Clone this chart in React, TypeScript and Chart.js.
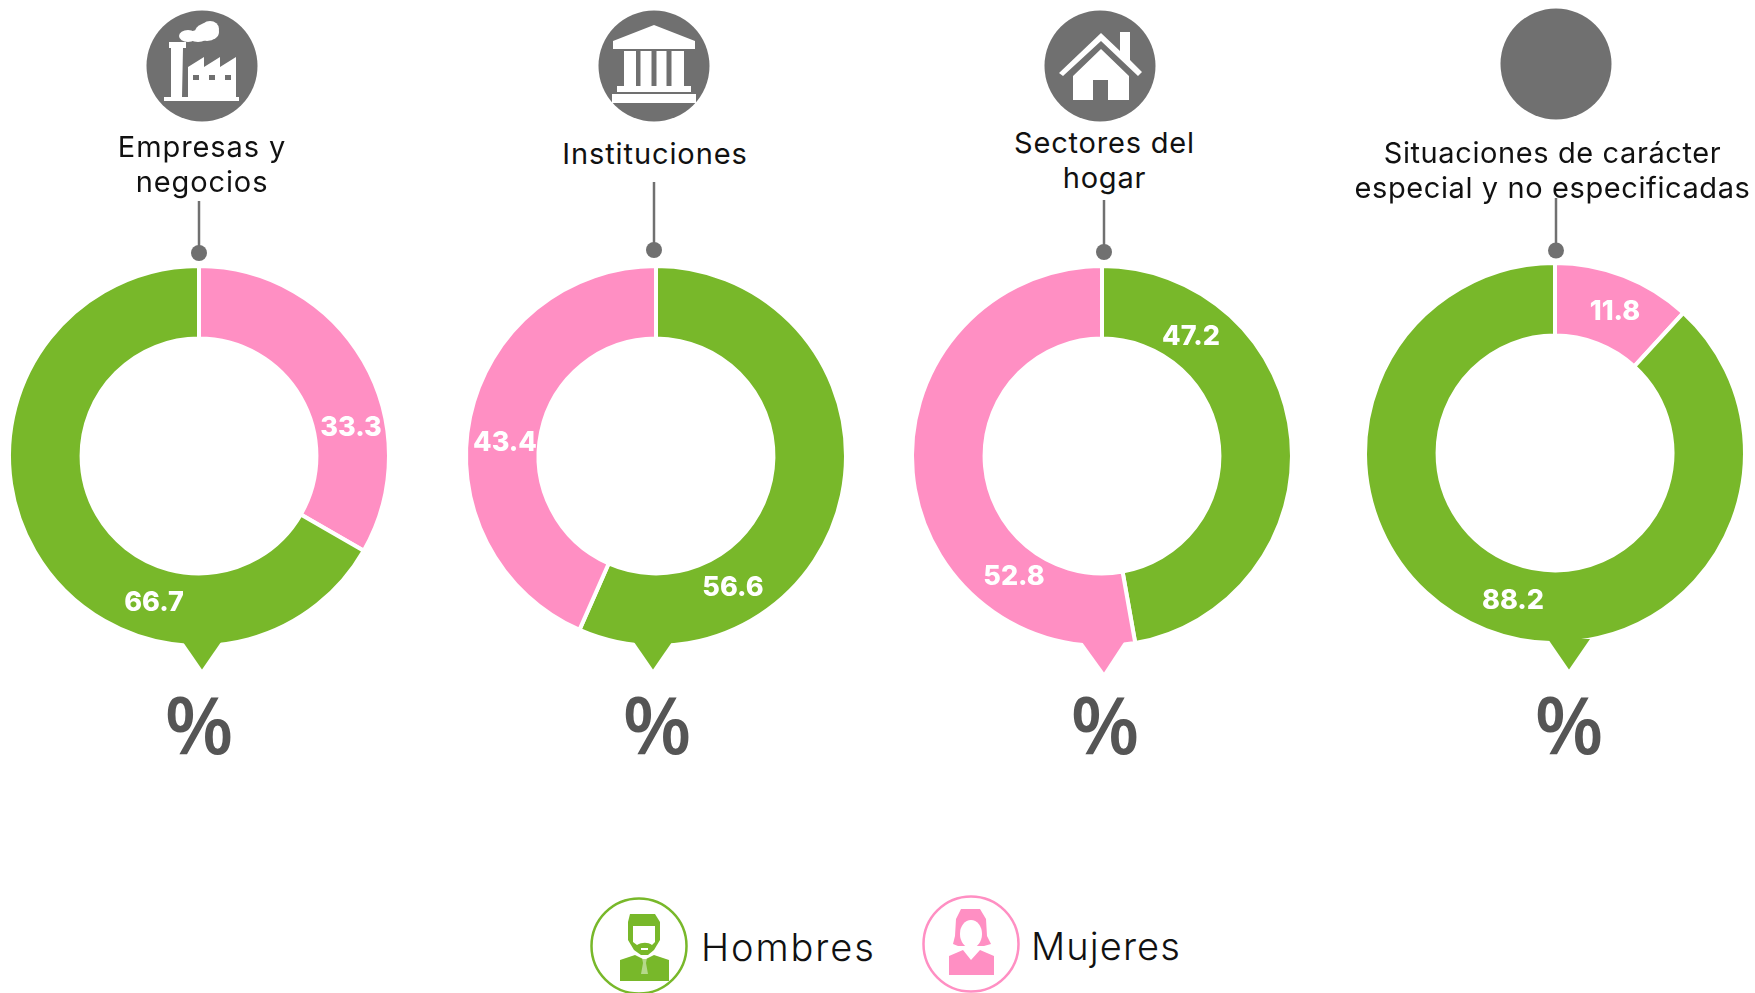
import React, { useEffect, useRef } from "react";
import { Chart, registerables } from "chart.js";

Chart.register(...registerables);

const GREEN = "#78b82a";
const PINK = "#ff8fc3";
const GRAY = "#707070";
const FONT = "Inter, 'Open Sans', sans-serif";

const panelNames = ["Empresas y negocios", "Instituciones", "Sectores del hogar", "Situaciones de carácter especial y no especificadas"];
const seriesNames = ["Hombres", "Mujeres"];
const hombres = [66.7, 56.6, 47.2, 88.2];
const mujeres = [33.3, 43.4, 52.8, 11.8];
const hombresFirst = [false, true, true, false];

// layout only
const centers = [[199, 455.5], [656, 455.5], [1102, 455.5], [1555, 452.5]];
const tails = [[183, 221, 202, 669, GREEN], [634, 672, 653, 669, GREEN], [1082, 1124, 1104, 672, PINK], [1548, 1590, 1569, 669, GREEN]];
const hombresLabelOffsets = [[-45, 147], [77, 132], [89, -119], [-42, 148]];
const mujeresLabelOffsets = [[152, -28], [-151, -13], [-88, 121], [60, -141]];
const headLines = [["Empresas y", "negocios"], ["Instituciones"], ["Sectores del", "hogar"], ["Situaciones de carácter", "especial y no especificadas"]];
const headX = [202, 655, 1104.5, 1552.5];
const headY = [129, 136, 125, 135];
const headSpacing = [0.9, 0.9, 0.8, 0.6];
const iconCenters = [[202, 66], [654, 66], [1100, 66], [1556, 64]];
const stems = [[199, 201, 253], [653.5, 182, 250], [1103.5, 200, 252], [1556, 198, 250.5]];
const percentX = [199, 657, 1105, 1569];

const labelPlugin = {
  id: "donutExtras",
  afterDatasetsDraw(chart: any, _a: any, o: any) {
    const { ctx } = chart;
    const meta = chart.getDatasetMeta(0);
    const cx = meta.data[0].x;
    const cy = meta.data[0].y;
    ctx.save();
    ctx.fillStyle = o.tail[4];
    ctx.beginPath();
    ctx.moveTo(o.tail[0] - o.center[0] + cx, o.tailY - o.center[1] + cy);
    ctx.lineTo(o.tail[2] - o.center[0] + cx, o.tail[3] - o.center[1] + cy);
    ctx.lineTo(o.tail[1] - o.center[0] + cx, o.tailY - o.center[1] + cy);
    ctx.closePath();
    ctx.fill();
    ctx.fillStyle = "#fff";
    ctx.font = `800 27px ${FONT}`;
    ctx.textAlign = "center";
    ctx.textBaseline = "middle";
    chart.data.datasets[0].data.forEach((v: number, i: number) => {
      const off = o.offsets[i];
      ctx.fillText(v.toFixed(1), cx + off[0], cy + off[1]);
    });
    ctx.restore();
  },
};

function Donut({ index }: { index: number }) {
  const ref = useRef<HTMLCanvasElement>(null);
  useEffect(() => {
    const hf = hombresFirst[index];
    const values = hf ? [hombres[index], mujeres[index]] : [mujeres[index], hombres[index]];
    const colors = hf ? [GREEN, PINK] : [PINK, GREEN];
    const offs = hf
      ? [hombresLabelOffsets[index], mujeresLabelOffsets[index]]
      : [mujeresLabelOffsets[index], hombresLabelOffsets[index]];
    const chart = new Chart(ref.current!, {
      type: "doughnut",
      data: {
        labels: hf ? seriesNames : [seriesNames[1], seriesNames[0]],
        datasets: [{ data: values, backgroundColor: colors, borderColor: "#fff", borderWidth: 4 }],
      },
      options: {
        animation: false,
        responsive: false,
        radius: 190,
        cutout: "61.8%",
        layout: { padding: 0 },
        plugins: {
          legend: { display: false },
          tooltip: { enabled: false },
          donutExtras: { offsets: offs, tail: tails[index], tailY: centers[index][1] + 186, center: centers[index] },
        },
      } as any,
      plugins: [labelPlugin],
    });
    return () => chart.destroy();
  }, [index]);
  const [cx, cy] = centers[index];
  return (
    <canvas
      ref={ref}
      width={440}
      height={440}
      style={{ position: "absolute", left: cx - 220, top: cy - 220, width: 440, height: 440 }}
    />
  );
}

function Glyph({ index }: { index: number }) {
  const [x, y] = iconCenters[index];
  const w = "#fff";
  return (
    <svg style={{ position: "absolute", left: x - 56, top: y - 56 }} width={112} height={112} viewBox="-56 -56 112 112">
      <circle r={55.5} fill={GRAY} />
      {index === 0 && (
        <g fill={w}>
          <rect x={-38} y={31} width={75} height={4} />
          <path d="M-33 -24H-16V-18H-19L-20 31H-31V-18H-33Z" />
          <path d="M-14 1 L2 -9V1L18 -9V1L34 -9V31H-14Z" />
          <ellipse cx={5} cy={-34} rx={12} ry={9} /><ellipse cx={-14} cy={-30} rx={9} ry={6} /><ellipse cx={8} cy={-37} rx={9} ry={8} /><ellipse cx={-4} cy={-30} rx={10} ry={6} />
          <rect x={-9} y={9} width={6} height={5} fill={GRAY} /><rect x={7} y={9} width={6} height={5} fill={GRAY} /><rect x={23} y={9} width={6} height={5} fill={GRAY} />
        </g>
      )}
      {index === 1 && (
        <g fill={w}>
          <path d="M0 -41 L41 -25V-17H-41V-25Z" />
          <rect x={-30} y={-15} width={12} height={35} /><rect x={-13.5} y={-15} width={11} height={35} /><rect x={2.5} y={-15} width={10} height={35} /><rect x={17.5} y={-15} width={12.5} height={35} />
          <rect x={-37} y={20} width={74} height={6} /><rect x={-42} y={28} width={84} height={9} />
        </g>
      )}
      {index === 2 && (
        <g fill={w}>
          <path d="M-41 7 L1 -33 L20 -15V-34H30V-6L42 6 L38 10 L1 -25 L-37 10Z" />
          <path d="M-27 10 L1 -17 L29 10V34H8V14H-7V34H-27Z" />
        </g>
      )}
    </svg>
  );
}

function Person({ x, y, color, woman }: { x: number; y: number; color: string; woman: boolean }) {
  return (
    <svg style={{ position: "absolute", left: x - 50, top: y - 50 }} width={100} height={100} viewBox="-50 -50 100 100">
      <circle r={47.5} fill="#fff" stroke={color} strokeWidth={2.5} />
      {woman ? (
        <g fill={color}>
          <path d="M-10 -35H9L15 -25L16 -8L20 0L13 2H-13L-18 0L-16 -8L-15 -25Z" />
          <ellipse cx={0} cy={-10} rx={11} ry={14} fill="#fff" />
          <path d="M-22 31V12L-8 6L0 16L9 6L23 12V31Z" />
        </g>
      ) : (
        <g fill={color}>
          <path d="M-9 -32H16L21 -24V-6L15 4L9 9H2L-5 4L-11 -6V-24Z" />
          <path d="M-6 -20H16V-4L13 -1C9 -4 3 -4 -2 -1L-6 -4Z" fill="#fff" />
          <path d="M2 2H9V4H2Z" fill="#fff" />
          <path d="M-19 35V14L-4 9L4 13H7L15 9L30 14V35Z" />
          <path d="M3 12H8L7 17L9 28H2L4 17Z" fill="#fff" opacity={0.45} />
        </g>
      )}
    </svg>
  );
}

const textStyle: React.CSSProperties = {
  position: "absolute",
  fontFamily: FONT,
  color: "#111",
  fontSize: 29,
  lineHeight: "35px",
  whiteSpace: "nowrap",
  transform: "translateX(-50%)",
  textAlign: "center",
};

export default function App() {
  return (
    <div style={{ position: "absolute", left: 0, top: 0, width: 1755, height: 993, background: "#fff", overflow: "hidden" }}>
      {panelNames.map((name, i) => (
        <React.Fragment key={name}>
          <Donut index={i} />
          <Glyph index={i} />
          <svg style={{ position: "absolute", left: stems[i][0] - 10, top: stems[i][1], pointerEvents: "none" }} width={20} height={stems[i][2] - stems[i][1] + 10}>
            <line x1={10} x2={10} y1={0} y2={stems[i][2] - stems[i][1]} stroke={GRAY} strokeWidth={2.5} />
            <circle cx={10} cy={stems[i][2] - stems[i][1]} r={8} fill={GRAY} />
          </svg>
          <div style={{ ...textStyle, left: headX[i], top: headY[i], letterSpacing: headSpacing[i] }}>
            {headLines[i].map((l) => (<div key={l}>{l}</div>))}
          </div>
          <div style={{ position: "absolute", left: percentX[i] - 60, width: 120, top: 673, textAlign: "center", fontFamily: "'Open Sans', sans-serif", fontWeight: 600, fontSize: 80, lineHeight: "100px", color: "#555", filter: "blur(0.7px)" }}>%</div>
        </React.Fragment>
      ))}
      <Person x={639} y={946} color={GREEN} woman={false} />
      <div style={{ ...textStyle, transform: "none", left: 701, top: 925, fontSize: 38, fontWeight: 300, letterSpacing: 1.9, lineHeight: "44px" }}>{seriesNames[0]}</div>
      <Person x={971} y={944} color={PINK} woman />
      <div style={{ ...textStyle, transform: "none", left: 1031, top: 924, fontSize: 38, fontWeight: 300, letterSpacing: 1.1, lineHeight: "44px" }}>{seriesNames[1]}</div>
    </div>
  );
}
